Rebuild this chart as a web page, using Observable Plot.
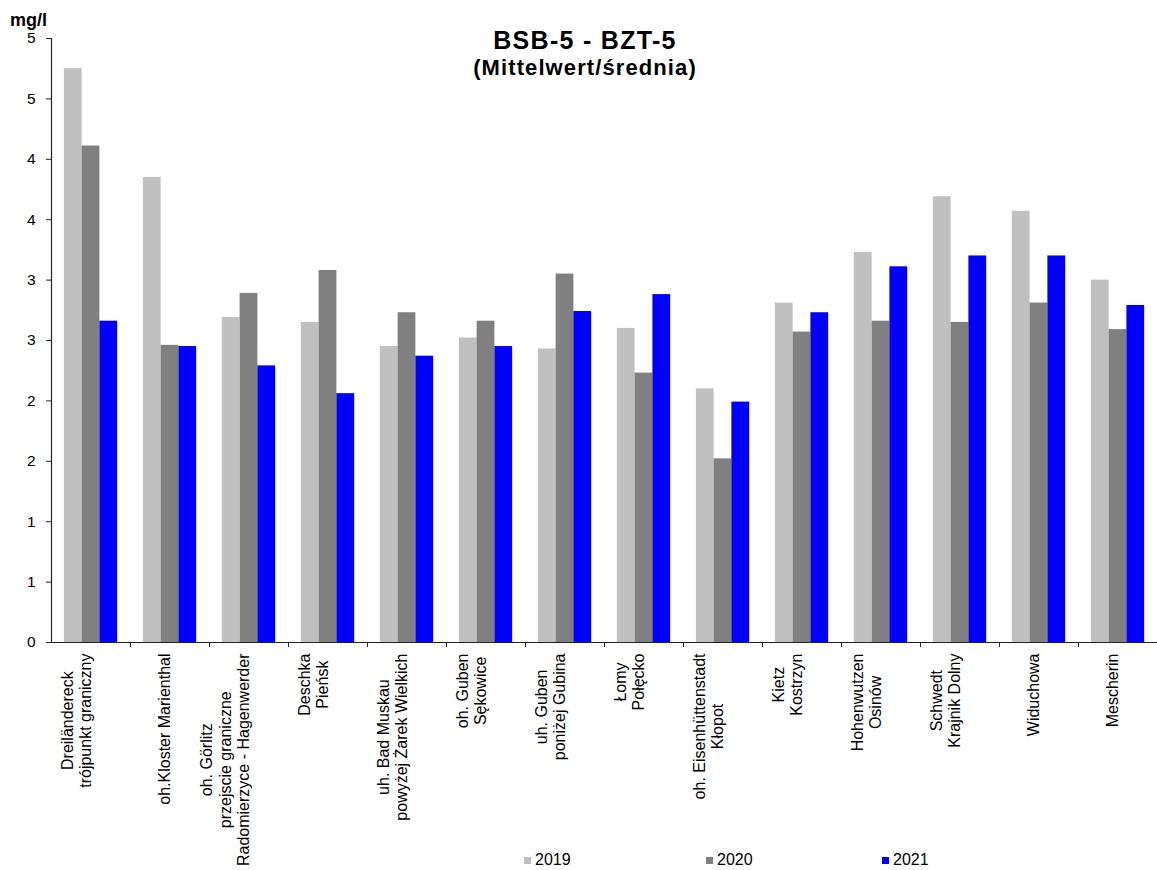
<!DOCTYPE html>
<html>
<head>
<meta charset="utf-8">
<script src="https://cdn.jsdelivr.net/npm/d3@7"></script>
<script src="https://cdn.jsdelivr.net/npm/@observablehq/plot@0.6"></script>
<style>
  body { margin: 0; background: #fff; font-family: "Liberation Sans", Arial, sans-serif; color: #000; }
  #wrap { position: relative; width: 1157px; height: 870px; overflow: hidden; }
  #chart { position: absolute; left: 0; top: 0; }
  .ttl { position: absolute; left: 0; width: 1170px; text-align: center; font-weight: bold; white-space: nowrap; line-height: 1; }
  #title { top: 28px; font-size: 25px; letter-spacing: 1.3px; }
  #subtitle { top: 56.5px; font-size: 22px; letter-spacing: 1.1px; }
  #unit { position: absolute; left: 10px; top: 13px; font-size: 18px; font-weight: bold; line-height: 15px; }
  #legend { position: absolute; top: 852px; left: 0; width: 1157px; height: 18px; font-size: 16px; line-height: 1; }
  .sw { position: absolute; display: flex; align-items: center; }
  .sw i { display: inline-block; width: 7px; height: 7px; margin-right: 4px; }
</style>
</head>
<body>
<div id="wrap">
  <div id="chart"></div>
  <div id="title" class="ttl"></div>
  <div id="subtitle" class="ttl"></div>
  <div id="unit"></div>
  <div id="legend"></div>
</div>
<script>
// ---- data ----
const titleText = "BSB-5 - BZT-5";
const subtitleText = "(Mittelwert/średnia)";
const unitText = "mg/l";
const stations = [
  "Dreiländereck\ntrójpunkt graniczny",
  "oh.Kloster Marienthal",
  "oh. Görlitz\nprzejscie graniczne\nRadomierzyce - Hagenwerder",
  "Deschka\nPieńsk",
  "uh. Bad Muskau\npowyżej Żarek Wielkich",
  "oh. Guben\nSękowice",
  "uh. Guben\nponiżej Gubina",
  "Łomy\nPołęcko",
  "oh. Eisenhüttenstadt\nKłopot",
  "Kietz\nKostrzyn",
  "Hohenwutzen\nOsinów",
  "Schwedt\nKrajnik Dolny",
  "Widuchowa",
  "Mescherin"
];
const years = ["2019", "2020", "2021"];
const values2019 = [4.75, 3.85, 2.69, 2.65, 2.45, 2.52, 2.43, 2.60, 2.10, 2.81, 3.23, 3.69, 3.57, 3.00];
const values2020 = [4.11, 2.46, 2.89, 3.08, 2.73, 2.66, 3.05, 2.23, 1.52, 2.57, 2.66, 2.65, 2.81, 2.59];
const values2021 = [2.66, 2.45, 2.29, 2.06, 2.37, 2.45, 2.74, 2.88, 1.99, 2.73, 3.11, 3.20, 3.20, 2.79];
const colors = ["#c0c0c0", "#808080", "#0000ff"];
const yTicks = [0, 0.5, 1, 1.5, 2, 2.5, 3, 3.5, 4, 4.5, 5];
const yTickLabels = ["0", "1", "1", "2", "2", "3", "3", "4", "4", "5", "5"];
const yDomain = [0, 5];

// ---- layout ----
const W = 1157, H = 870;
const mL = 51, mR = 0, mT = 38, mB = 228;
const fontFam = '"Liberation Sans", Arial, sans-serif';
const tickSize = 15.5;
const labelSize = 16;
const bw = (W - mL - mR) / stations.length;
const groupFrac = 0.675;
const barW = bw * groupFrac / years.length;
const lead = bw * (1 - groupFrac) / 2;

const seriesValues = [values2019, values2020, values2021];
const table = years.map((yr, j) => stations.map((s, i) => ({station: s, year: yr, value: seriesValues[j][i]})));

// measure label widths for centered multi-line rotated labels
const ctx = document.createElement("canvas").getContext("2d");
ctx.font = `${labelSize}px ${fontFam}`;
const maxLineWidth = s => d3.max(s.split("\n"), l => ctx.measureText(l).width);

const barMarks = years.map((yr, j) => Plot.barY(table[j], {
  x: "station", y: "value", fill: colors[j],
  insetLeft: lead + j * barW,
  insetRight: bw - lead - (j + 1) * barW
}));

const labelMarks = stations.map(s => Plot.text([s], {
  x: d => d, text: d => d, frameAnchor: "bottom",
  rotate: -90, textAnchor: "middle", lineHeight: 1.15,
  fontSize: labelSize, fill: "#000",
  dy: 11 + maxLineWidth(s) / 2
}));

const chart = Plot.plot({
  width: W, height: H,
  marginLeft: mL, marginRight: mR, marginTop: mT, marginBottom: mB,
  style: {fontFamily: fontFam, fontSize: tickSize + "px", color: "#000", background: "#fff"},
  x: {domain: stations, padding: 0, axis: null},
  y: {domain: yDomain, axis: null},
  marks: [
    ...barMarks,
    Plot.ruleY([0], {stroke: "#222", strokeWidth: 1.2}),
    Plot.ruleX([stations[0]], {dx: -bw / 2, y1: yDomain[0], y2: yDomain[1], stroke: "#222", strokeWidth: 1.2}),
    Plot.axisY({ticks: yTicks, tickFormat: d => yTickLabels[yTicks.indexOf(d)], tickSize: 5, tickPadding: 11, label: null, stroke: "#222", fontSize: tickSize}),
    Plot.axisX({tickSize: 5, tickFormat: () => "", dx: bw / 2, label: null, stroke: "#222"}),
    ...labelMarks
  ]
});
document.getElementById("chart").appendChild(chart);

document.getElementById("title").textContent = titleText;
document.getElementById("subtitle").textContent = subtitleText;
document.getElementById("unit").textContent = unitText;

const legendLeft = [524, 706, 882];
const lg = document.getElementById("legend");
years.forEach((yr, j) => {
  const d = document.createElement("div");
  d.className = "sw";
  d.style.left = legendLeft[j] + "px";
  d.innerHTML = `<i style="background:${colors[j]}"></i><span>${yr}</span>`;
  lg.appendChild(d);
});
</script>
</body>
</html>
